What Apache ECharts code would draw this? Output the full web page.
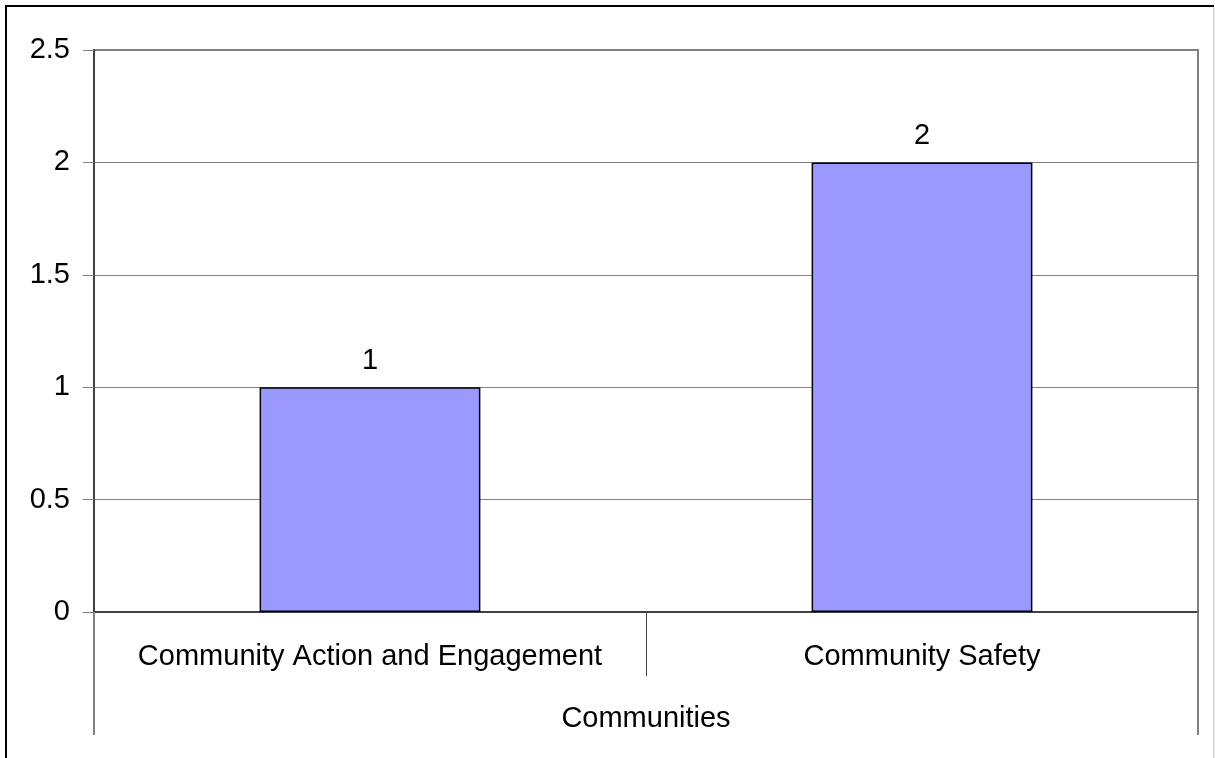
<!DOCTYPE html>
<html>
<head>
<meta charset="utf-8">
<script src="https://cdn.jsdelivr.net/npm/echarts@6/dist/echarts.min.js"></script>
<style>
html,body{margin:0;padding:0;background:#fff;}
#chart{width:1215px;height:758px;}
</style>
</head>
<body>
<div id="chart"></div>
<script>
const categories = ['Community Action and Engagement', 'Community Safety'];
const groupLabels = ['Communities'];
const values = [1, 2];
const yTicks = { min: 0, max: 2.5, interval: 0.5 };

const FONT = "'Liberation Sans', Arial, sans-serif";
const FS = 29;

const chart = echarts.init(document.getElementById('chart'), null, { renderer: 'canvas' });
chart.setOption({
  animation: false,
  backgroundColor: '#fff',
  textStyle: { fontFamily: FONT },
  grid: {
    left: 94, right: 17, top: 50, bottom: 146,
    show: true, borderColor: '#808080', borderWidth: 2, backgroundColor: 'transparent'
  },
  xAxis: [
    {
      type: 'category',
      data: categories,
      position: 'bottom',
      axisLine: { show: true, lineStyle: { color: '#404040', width: 2 } },
      axisTick: { show: true, length: 64, interval: 0, lineStyle: { color: '#404040', width: 1 } },
      axisLabel: { color: '#000', fontSize: FS, fontFamily: FONT, margin: 30, interval: 0 },
      splitLine: { show: false }
    },
    {
      type: 'category',
      data: groupLabels,
      position: 'bottom',
      axisLine: { show: false },
      axisTick: { show: true, length: 123, lineStyle: { color: '#808080', width: 2 } },
      axisLabel: { color: '#000', fontSize: FS, fontFamily: FONT, margin: 92 },
      splitLine: { show: false }
    }
  ],
  yAxis: {
    type: 'value',
    min: yTicks.min, max: yTicks.max, interval: yTicks.interval,
    axisLine: { show: true, lineStyle: { color: '#404040', width: 2 } },
    axisTick: { show: true, inside: false, length: 11, lineStyle: { color: '#808080', width: 1 } },
    axisLabel: { color: '#000', fontSize: FS, fontFamily: FONT, margin: 24 },
    splitLine: { show: true, lineStyle: { color: '#808080', width: 1 } }
  },
  series: [{
    type: 'bar',
    xAxisIndex: 0,
    data: values,
    barWidth: '40%',
    itemStyle: { color: '#9999FF', borderColor: '#000', borderWidth: 1.5 },
    label: { show: true, position: 'top', distance: 12, color: '#000', fontSize: FS, fontFamily: FONT }
  }],
  graphic: [
    { type: 'line', shape: { x1: 5, y1: 6, x2: 1214, y2: 6 }, style: { stroke: '#000', lineWidth: 2 } },
    { type: 'line', shape: { x1: 6, y1: 5, x2: 6, y2: 760 }, style: { stroke: '#000', lineWidth: 2 } },
    { type: 'line', shape: { x1: 1214, y1: 7, x2: 1214, y2: 760 }, style: { stroke: '#c0c0c0', lineWidth: 1 } }
  ]
});
</script>
</body>
</html>
